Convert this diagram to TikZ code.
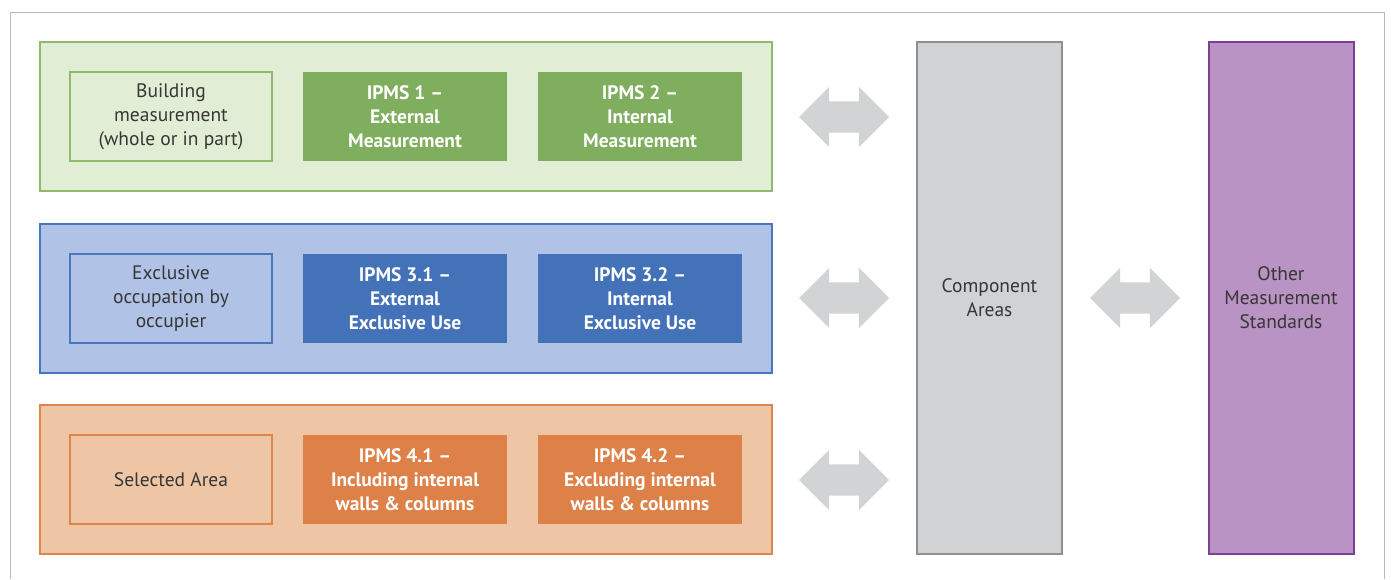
\documentclass[tikz,border=0pt]{standalone}
\usepackage{fontspec}
\setmainfont{PT Sans}
\usetikzlibrary{shapes.arrows}

\definecolor{txtgray}{HTML}{363636}
\definecolor{grnlight}{HTML}{E2EDD6}
\definecolor{grnline}{HTML}{8DBA6B}
\definecolor{grndark}{HTML}{80AE5F}
\definecolor{bluelight}{HTML}{B0C3E6}
\definecolor{blueline}{HTML}{4A76BE}
\definecolor{bluedark}{HTML}{4472B8}
\definecolor{orglight}{HTML}{EEC6A6}
\definecolor{orgline}{HTML}{DE8649}
\definecolor{orgdark}{HTML}{DD8148}
\definecolor{compfill}{HTML}{D1D2D4}
\definecolor{compline}{HTML}{8E8F91}
\definecolor{purpfill}{HTML}{B993C3}
\definecolor{purpline}{HTML}{7E3D98}
\definecolor{arrgray}{HTML}{D2D3D5}

\tikzset{
  band/.style={draw=#1line, fill=#1light, line width=2pt, minimum width=732pt, minimum height=149pt, inner sep=0pt},
  scopebox/.style={draw=#1line, fill=#1light, line width=2pt, minimum width=202pt, minimum height=89pt, inner sep=0pt,
    align=center, text=txtgray, font=\fontsize{19.5}{24}\selectfont},
  ipmsbox/.style={fill=#1dark, minimum width=204pt, minimum height=89pt, inner sep=0pt,
    align=center, text=white, font=\fontsize{19.5}{24}\selectfont\bfseries},
  tallbox/.style={draw=#1line, fill=#1fill, line width=2pt, minimum width=145pt, minimum height=512pt, inner sep=0pt,
    align=center, text=txtgray, font=\fontsize{19.5}{24}\selectfont},
  linkarrow/.style={double arrow, fill=arrgray, minimum height=90pt, minimum width=60pt,
    double arrow head extend=14.5pt, inner xsep=0pt, inner ysep=15.5pt}
}

\begin{document}
\begin{tikzpicture}[x=1pt, y=-1pt]

    \useasboundingbox (0,0) rectangle (1391,579);

    % outer frame, open at the bottom
    \draw[gray!55, line width=1pt] (10,579) -- (10,12) -- (1384,12) -- (1384,579);

    % row 1: building
    \node[band=grn] (grow) at (406,116.5) {};
    \node[scopebox=grn] (gscope) at (171,116.5) {Building\\measurement\\(whole or in part)};
    \node[ipmsbox=grn] (ipms1) at (405,116.5) {IPMS 1 --\\External\\Measurement};
    \node[ipmsbox=grn] (ipms2) at (640,116.5) {IPMS 2 --\\Internal\\Measurement};

    % row 2: exclusive occupation
    \node[band=blue] (brow) at (406,298.5) {};
    \node[scopebox=blue] (bscope) at (171,298.5) {Exclusive\\occupation by\\occupier};
    \node[ipmsbox=blue] (ipms31) at (405,298.5) {IPMS 3.1 --\\External\\Exclusive Use};
    \node[ipmsbox=blue] (ipms32) at (640,298.5) {IPMS 3.2 --\\Internal\\Exclusive Use};

    % row 3: selected area
    \node[band=org] (orow) at (406,479.5) {};
    \node[scopebox=org] (oscope) at (171,479.5) {Selected Area};
    \node[ipmsbox=org] (ipms41) at (405,479.5) {IPMS 4.1 --\\Including internal\\walls \& columns};
    \node[ipmsbox=org] (ipms42) at (640,479.5) {IPMS 4.2 --\\Excluding internal\\walls \& columns};

    % right hand columns
    \node[tallbox=comp] (comp) at (989.5,298) {Component\\Areas};
    \node[tallbox=purp] (other) at (1281,298) {Other\\Measurement\\Standards};

    % links
    \node[linkarrow] (link1) at (844,117) {};
    \node[linkarrow] (link2) at (844,298) {};
    \node[linkarrow] (link3) at (844,480) {};
    \node[linkarrow] (link4) at (1135,298) {};

\end{tikzpicture}
\end{document}
